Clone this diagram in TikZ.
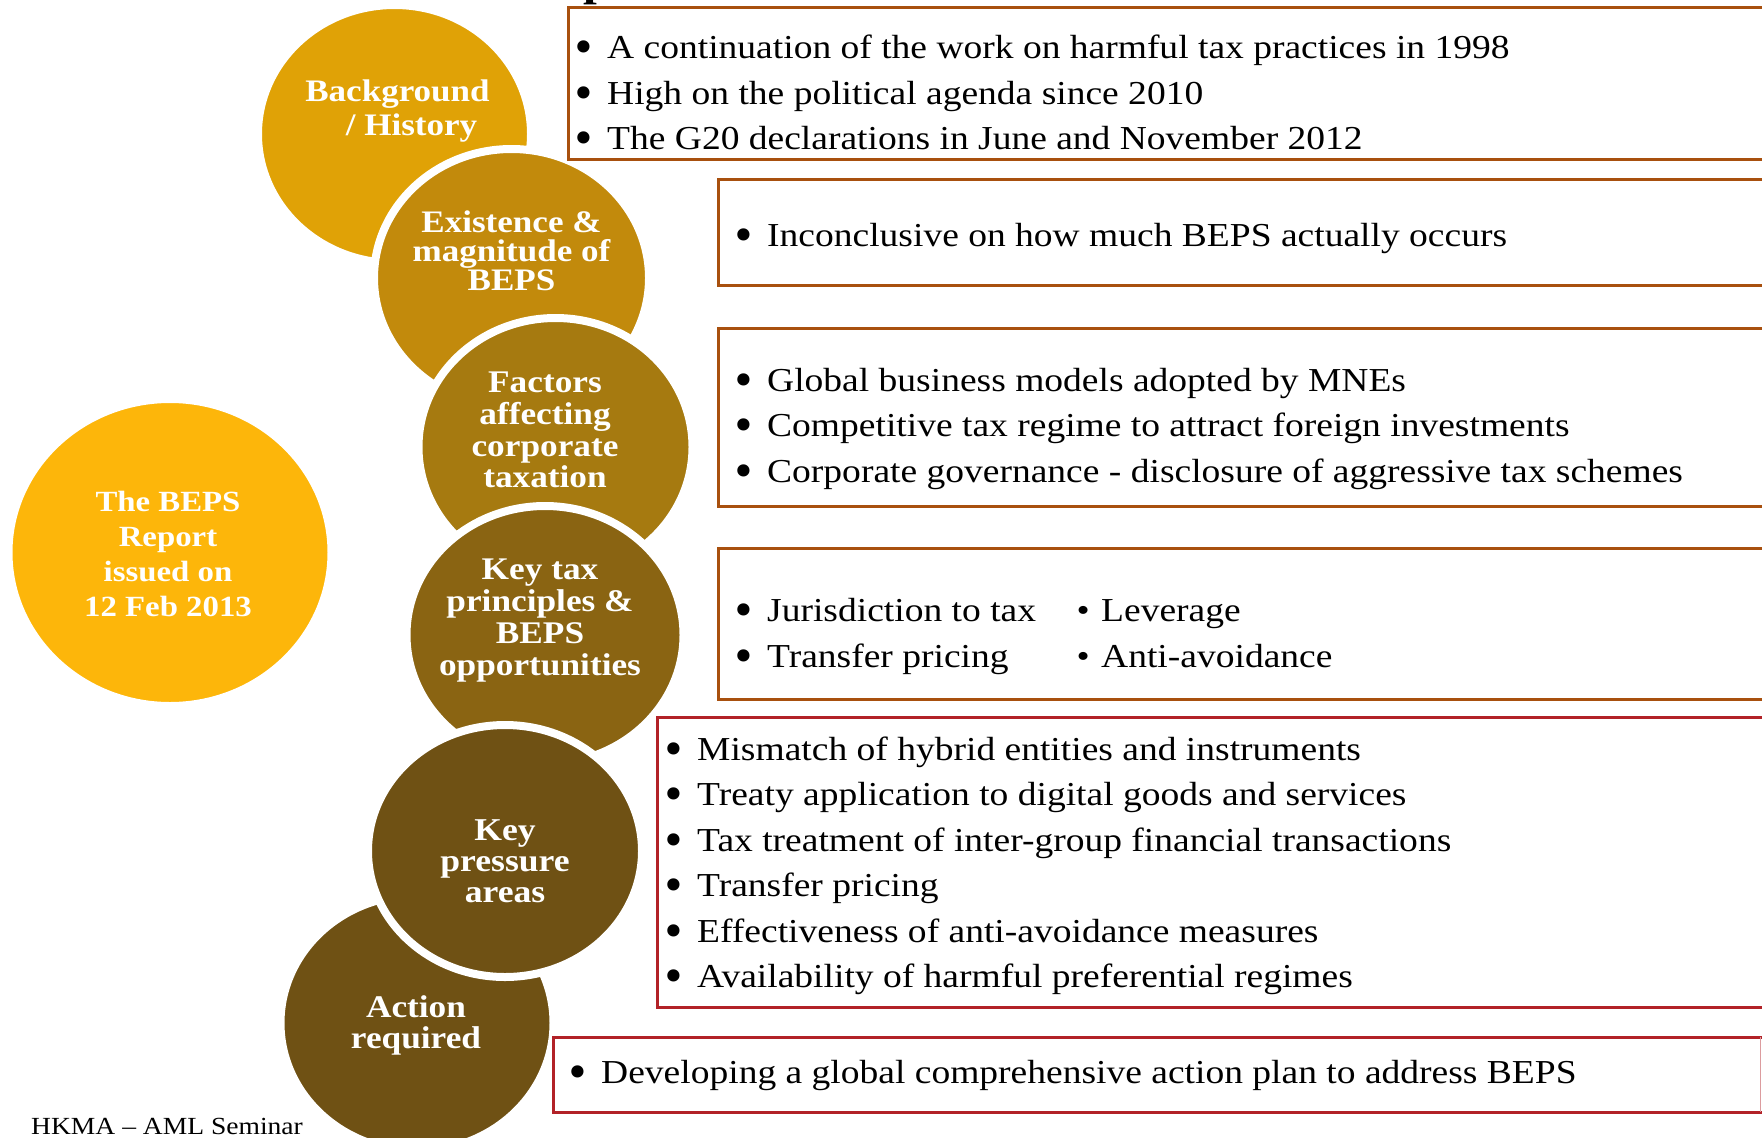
\documentclass[tikz,border=0pt]{standalone}
\usepackage{fontspec}
\setmainfont{Liberation Serif}[FakeStretch=1.12]
\newfontfamily\bulfont{DejaVu Sans}
\usetikzlibrary{shapes.geometric}
\definecolor{cOne}{RGB}{224,162,6}
\definecolor{cTwo}{RGB}{194,138,12}
\definecolor{cThree}{RGB}{166,122,16}
\definecolor{cFour}{RGB}{138,100,18}
\definecolor{cFive}{RGB}{111,81,20}
\definecolor{cRep}{RGB}{253,182,10}
\definecolor{bBrown}{RGB}{168,80,14}
\definecolor{bRed}{RGB}{178,34,40}
\newcommand{\bul}{\llap{\raisebox{-4.4pt}{\bulfont\fontsize{42}{42}\selectfont\textbullet}\hspace{10.6pt}}}
\newcommand{\bulsm}{\llap{\textbullet\hspace{11.5pt}}}
\begin{document}
\begin{tikzpicture}[x=1pt,y=-1pt,
  disc/.style={ellipse, draw=white, line width=8pt, inner sep=0pt, outer sep=0pt},
  clabel/.style={text=white, align=center, inner sep=0pt},
  bline/.style={anchor=base west, inner sep=0pt, text=black, font=\fontsize{33.5}{40}\selectfont},
  boxb/.style={draw=bBrown, line width=3pt},
  boxr/.style={draw=bRed, line width=3pt}]
\clip (0,0) rectangle (1762,1138);
\fill[white] (0,0) rectangle (1762,1138);

% title fragment
\node[anchor=base west, inner sep=0pt, font=\fontsize{44}{44}\selectfont\bfseries] (ttl) at (583,-4.5) {p};

% circles
\node[disc, fill=cOne, minimum width=273pt, minimum height=258pt] (c1) at (394.5,134) {};
\node[disc, fill=cTwo, minimum width=275pt, minimum height=258pt] (c2) at (511.5,278) {};
\node[disc, fill=cThree, minimum width=274pt, minimum height=258pt] (c3) at (555.5,447) {};
\node[disc, fill=cFour, minimum width=277pt, minimum height=258pt] (c4) at (545,635) {};
\node[disc, fill=cFive, minimum width=273pt, minimum height=256pt] (c6) at (417,1023) {};
\node[disc, fill=cFive, minimum width=274pt, minimum height=252pt] (c5) at (505,851) {};
\node[disc, fill=cRep, minimum width=323pt, minimum height=307pt] (rep) at (170,552.5) {};

% circle labels
\node[clabel, font=\fontsize{31.3}{34}\selectfont\bfseries] (l1) at (397.5,111) {Background\\\hspace*{28pt}/ History};
\node[clabel, font=\fontsize{31.3}{29}\selectfont\bfseries] (l2) at (511.5,251) {Existence \&\\magnitude of\\BEPS};
\node[clabel, font=\fontsize{31.5}{31.7}\selectfont\bfseries] (l3) at (545,430) {Factors\\affecting\\corporate\\taxation};
\node[clabel, font=\fontsize{31.5}{31.7}\selectfont\bfseries] (l4) at (540,620.5) {Key tax\\principles \&\\BEPS\\opportunities};
\node[clabel, font=\fontsize{31.8}{31}\selectfont\bfseries] (l5) at (505,861) {Key\\pressure\\areas};
\node[clabel, font=\fontsize{31.5}{31}\selectfont\bfseries] (l6) at (416,1025.5) {Action\\required};
\node[clabel, font=\fontsize{29.3}{35}\selectfont\bfseries] (lr) at (168,554) {The BEPS\\Report\\issued on\\12 Feb 2013};

% boxes
\draw[boxb] (568,7) rectangle (1790,159);
\draw[boxb] (718,179) rectangle (1790,285);
\draw[boxb] (718,328) rectangle (1790,506);
\draw[boxb] (718,548) rectangle (1790,699);
\draw[boxr] (657,717) rectangle (1790,1007);
\draw[boxr] (553,1037) rectangle (1790,1112);
\draw[draw=bRed!45, line width=1.5pt] (1760.5,1037) -- (1760.5,1112);

% box 1
\node[bline] (t11) at (607,58) {\bul A continuation of the work on harmful tax practices in 1998};
\node[bline] (t12) at (607,104) {\bul High on the political agenda since 2010};
\node[bline] (t13) at (607,149) {\bul The G20 declarations in June and November 2012};
% box 2
\node[bline] (t21) at (767,246) {\bul Inconclusive on how much BEPS actually occurs};
% box 3
\node[bline] (t31) at (767,391) {\bul Global business models adopted by MNEs};
\node[bline] (t32) at (767,436) {\bul Competitive tax regime to attract foreign investments};
\node[bline] (t33) at (767,482) {\bul Corporate governance - disclosure of aggressive tax schemes};
% box 4
\node[bline] (t41) at (767,621) {\bul Jurisdiction to tax};
\node[bline] (t42) at (767,667) {\bul Transfer pricing};
\node[bline] (t43) at (1101,621) {\bulsm Leverage};
\node[bline] (t44) at (1101,667) {\bulsm Anti-avoidance};
% box 5
\node[bline] (t51) at (697,760) {\bul Mismatch of hybrid entities and instruments};
\node[bline] (t52) at (697,805) {\bul Treaty application to digital goods and services};
\node[bline] (t53) at (697,851) {\bul Tax treatment of inter-group financial transactions};
\node[bline] (t54) at (697,896) {\bul Transfer pricing};
\node[bline] (t55) at (697,942) {\bul Effectiveness of anti-avoidance measures};
\node[bline] (t56) at (697,987) {\bul Availability of harmful preferential regimes};
% box 6
\node[bline] (t61) at (601,1083) {\bul Developing a global comprehensive action plan to address BEPS};

% footer
\node[anchor=base west, inner sep=0pt, font=\fontsize{24.6}{26}\selectfont] (foot) at (31,1134) {HKMA -- AML Seminar};
\end{tikzpicture}
\end{document}
